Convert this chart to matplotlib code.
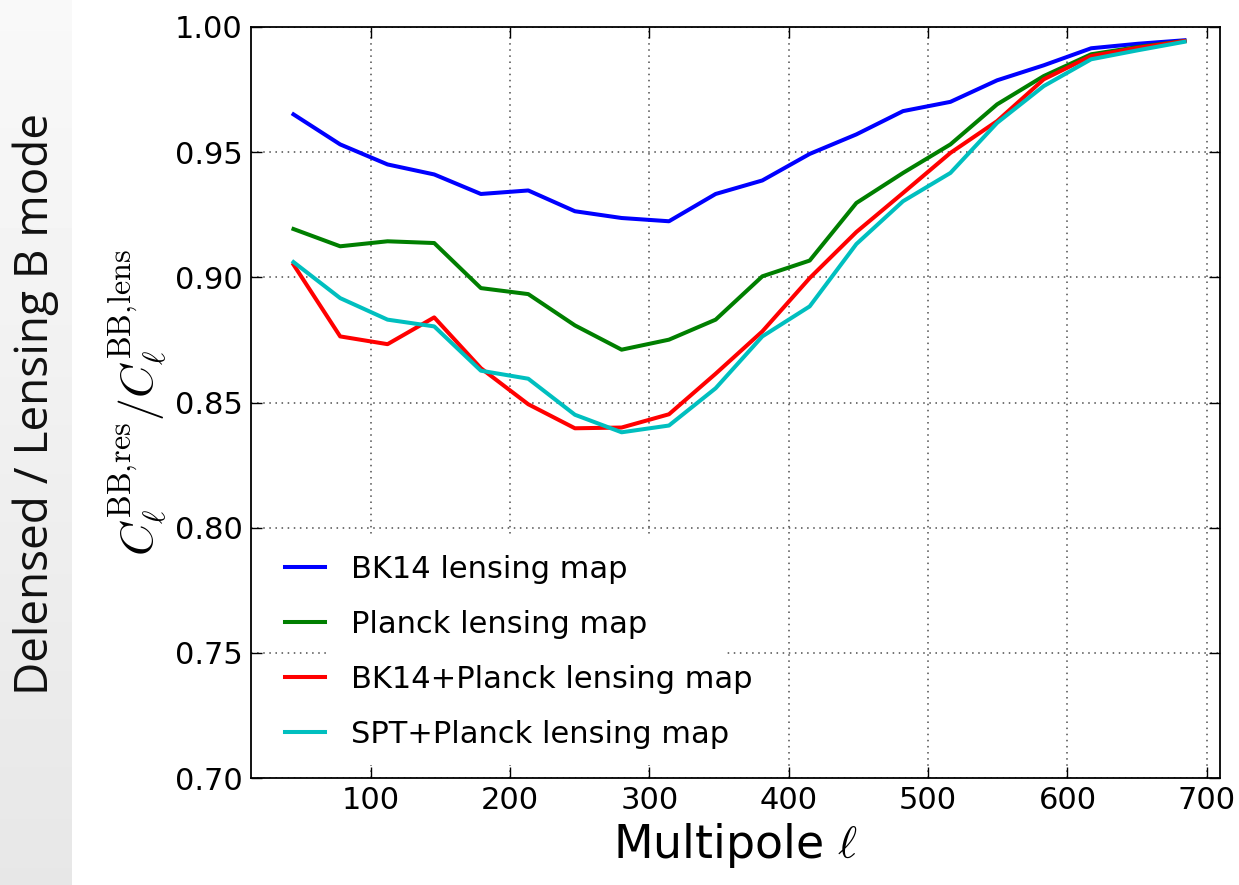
import numpy as np
import matplotlib
matplotlib.use("Agg")
import matplotlib.pyplot as plt
from matplotlib.patches import Rectangle

plt.rcParams['mathtext.fontset'] = 'cm'
plt.rcParams['font.family'] = 'DejaVu Sans'

# multipole bin centres
ell = [44.5, 78, 112, 145.5, 179, 213, 246.5, 280, 314, 347.5,
       381, 415, 448.5, 482, 516, 549.5, 583, 617, 650.5, 684]

# residual / lensing BB power ratio for each lensing tracer
bk14 = [0.9651, 0.9531, 0.9451, 0.9411, 0.9333, 0.9347, 0.9264, 0.9237, 0.9224, 0.9333,
        0.9387, 0.9493, 0.9571, 0.9664, 0.9701, 0.9787, 0.9847, 0.9915, 0.9933, 0.9947]
planck = [0.9193, 0.9124, 0.9144, 0.9137, 0.8957, 0.8933, 0.8808, 0.8711, 0.8751, 0.8831,
          0.9004, 0.9067, 0.9297, 0.9417, 0.9531, 0.9691, 0.9804, 0.9891, 0.9920, 0.9944]
bk14_planck = [0.9051, 0.8764, 0.8733, 0.8840, 0.8637, 0.8493, 0.8397, 0.8400, 0.8453, 0.8615,
               0.8784, 0.8997, 0.9181, 0.9337, 0.9497, 0.9624, 0.9791, 0.9884, 0.9917, 0.9944]
spt_planck = [0.9061, 0.8917, 0.8831, 0.8804, 0.8627, 0.8595, 0.8451, 0.8381, 0.8408, 0.8557,
              0.8764, 0.8884, 0.9133, 0.9304, 0.9417, 0.9617, 0.9764, 0.9871, 0.9907, 0.9941]

labels = ['BK14 lensing map', 'Planck lensing map',
          'BK14+Planck lensing map', 'SPT+Planck lensing map']
colors = ['#0000ff', '#007f00', '#ff0000', '#00bfbf']

W, H = 1239, 885
fig = plt.figure(figsize=(W / 100, H / 100), dpi=100)
fig.patch.set_facecolor('white')

# grey side strip with the plain-language axis title
side = fig.add_axes([0, 0, 72 / W, 1])
grad = np.linspace(0.975, 0.905, 256).reshape(-1, 1)
side.imshow(grad, cmap='gray', vmin=0, vmax=1, aspect='auto', extent=[0, 1, 0, 1])
side.set_axis_off()
side.text(0.5, 0.543, 'Delensed / Lensing B mode', rotation=90, ha='center', va='center',
          fontsize=33, family=['Open Sans', 'DejaVu Sans'], color='#111111',
          transform=side.transAxes)

ax = fig.add_axes([251 / W, 1 - 778 / H, (1220 - 251) / W, (778 - 27) / H])
for y, lab, c in zip([bk14, planck, bk14_planck, spt_planck], labels, colors):
    ax.plot(ell, y, color=c, lw=2.9, label=lab, zorder=3)

ax.set_xlim(14, 709.5)
ax.set_ylim(0.70, 1.00)
ax.set_xticks([100, 200, 300, 400, 500, 600, 700])
ax.set_yticks([0.70, 0.75, 0.80, 0.85, 0.90, 0.95, 1.00])
ax.yaxis.set_major_formatter(matplotlib.ticker.FormatStrFormatter('%.2f'))
ax.grid(True, linestyle=(0, (1, 3)), color='0.3', lw=1.1)
ax.tick_params(direction='in', length=8, width=1, top=True, right=True,
               labelsize=22, pad=6)
for sp in ax.spines.values():
    sp.set_linewidth(1.3)

ax.set_xlabel(r'Multipole $\ell$', fontsize=33, labelpad=4)
ax.set_ylabel(r'$C_\ell^{\rm BB,\!res}/C_\ell^{\rm BB,\!lens}$', fontsize=33, labelpad=4)

# white patch behind the legend text
ax.add_patch(Rectangle((0.0815, 0.017), 0.41, 0.304, transform=ax.transAxes,
                       facecolor='white', edgecolor='none', zorder=2.5))
leg = ax.legend(loc='lower left', frameon=False, fontsize=22, handlelength=1.3,
                handletextpad=0.85, labelspacing=0.85, borderaxespad=0.3,
                bbox_to_anchor=(0.0134, 0.0107))
leg.set_zorder(4)

fig.savefig('out.png', dpi=100)
